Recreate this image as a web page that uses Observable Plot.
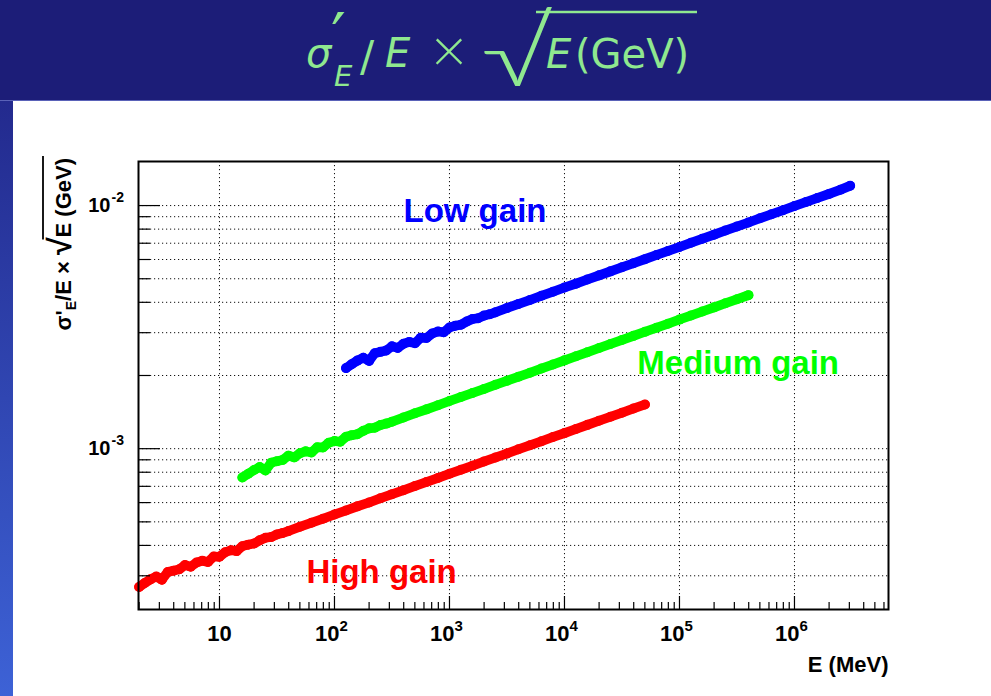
<!DOCTYPE html>
<html><head><meta charset="utf-8">
<script src="https://cdn.jsdelivr.net/npm/d3@7"></script>
<script src="https://cdn.jsdelivr.net/npm/@observablehq/plot@0.6"></script>
<style>
html,body{margin:0;padding:0;background:#fff;}
#page{position:relative;width:991px;height:696px;overflow:hidden;background:#fff;}
#header{position:absolute;left:0;top:0;width:991px;height:100px;background:#1c1d78;border-bottom:1px solid #5a62b8;}
#strip{position:absolute;left:0;top:101px;width:13px;height:595px;background:linear-gradient(#232a8e,#3d62d6);}
#chart{position:absolute;left:13px;top:101px;width:978px;height:595px;}
#title{position:absolute;left:0;top:0;overflow:visible;}
</style></head><body>
<div id="page">
  <div id="header"><svg id="title" width="991" height="100"></svg></div>
  <div id="strip"></div>
  <div id="chart"></div>
</div>
<script>
// ---- data (E in MeV, value = sigma'_E/E * sqrt(E[GeV])) ----
const highGainE = [2.00,2.24,2.51,2.82,3.16,3.55,3.98,4.47,5.01,5.62,6.31,7.08,7.94,8.91,10.0,11.2,12.6,14.1,15.8,17.8,20.0,22.4,25.1,28.2,31.6,35.5,39.8,
  50.1,63.1,79.4,100,126,158,200,251,316,398,501,631,794,1000,1259,1585,1995,2512,3162,3981,5012,6310,7943,10000,12589,15849,19953,25119,31623,39811,50119];
const highGainV = [2.70e-4,2.80e-4,2.90e-4,2.98e-4,2.89e-4,3.11e-4,3.15e-4,3.19e-4,3.32e-4,3.27e-4,3.40e-4,3.46e-4,3.42e-4,3.60e-4,3.59e-4,3.75e-4,3.82e-4,3.79e-4,3.97e-4,4.03e-4,4.07e-4,4.20e-4,4.30e-4,4.33e-4,4.44e-4,4.50e-4,4.58e-4,
  4.77e-4,4.96e-4,5.15e-4,5.36e-4,5.57e-4,5.79e-4,6.01e-4,6.25e-4,6.50e-4,6.75e-4,7.02e-4,7.29e-4,7.58e-4,7.88e-4,8.19e-4,8.51e-4,8.85e-4,9.20e-4,9.56e-4,9.94e-4,1.033e-3,1.073e-3,1.116e-3,1.159e-3,1.205e-3,1.253e-3,1.302e-3,1.353e-3,1.406e-3,1.462e-3,1.519e-3];

const mediumGainE = [15.8,17.8,20.0,22.4,25.1,28.2,31.6,35.5,39.8,44.7,50.1,56.2,63.1,70.8,79.4,89.1,100,112,126,141,158,178,200,224,251,282,316,
  398,501,631,794,1000,1259,1585,1995,2512,3162,3981,5012,6310,7943,1.0e4,1.26e4,1.58e4,2.0e4,2.51e4,3.16e4,3.98e4,5.01e4,6.31e4,7.94e4,1.0e5,1.26e5,1.58e5,2.0e5,2.51e5,3.16e5,3.98e5];
const mediumGainV = [7.61e-4,7.89e-4,8.17e-4,8.40e-4,8.14e-4,8.76e-4,8.88e-4,8.99e-4,9.36e-4,9.21e-4,9.58e-4,9.75e-4,9.64e-4,1.014e-3,1.012e-3,1.057e-3,1.076e-3,1.068e-3,1.119e-3,1.136e-3,1.147e-3,1.184e-3,1.212e-3,1.220e-3,1.251e-3,1.268e-3,1.291e-3,
  1.344e-3,1.398e-3,1.451e-3,1.510e-3,1.570e-3,1.632e-3,1.694e-3,1.761e-3,1.832e-3,1.902e-3,1.978e-3,2.054e-3,2.136e-3,2.221e-3,2.308e-3,2.398e-3,2.494e-3,2.593e-3,2.694e-3,2.801e-3,2.911e-3,3.024e-3,3.145e-3,3.266e-3,3.396e-3,3.531e-3,3.669e-3,3.813e-3,3.962e-3,4.120e-3,4.281e-3];

const lowGainE = [126,141,158,178,200,224,251,282,316,355,398,447,501,562,631,708,794,891,1000,1122,1259,1413,1585,1778,1995,2239,2512,
  3162,3981,5012,6310,7943,1.0e4,1.26e4,1.58e4,2.0e4,2.51e4,3.16e4,3.98e4,5.01e4,6.31e4,7.94e4,1.0e5,1.26e5,1.58e5,2.0e5,2.51e5,3.16e5,3.98e5,5.01e5,6.31e5,7.94e5,1.0e6,1.26e6,1.58e6,2.0e6,2.51e6,3.05e6];
const lowGainV = [2.145e-3,2.224e-3,2.303e-3,2.367e-3,2.296e-3,2.470e-3,2.502e-3,2.534e-3,2.637e-3,2.597e-3,2.701e-3,2.748e-3,2.717e-3,2.859e-3,2.852e-3,2.979e-3,3.034e-3,3.010e-3,3.153e-3,3.201e-3,3.233e-3,3.336e-3,3.415e-3,3.439e-3,3.527e-3,3.574e-3,3.638e-3,
  3.789e-3,3.940e-3,4.091e-3,4.257e-3,4.424e-3,4.599e-3,4.774e-3,4.964e-3,5.163e-3,5.362e-3,5.576e-3,5.790e-3,6.021e-3,6.259e-3,6.505e-3,6.759e-3,7.030e-3,7.308e-3,7.594e-3,7.895e-3,8.205e-3,8.523e-3,8.864e-3,9.206e-3,9.571e-3,9.953e-3,1.0342e-2,1.0747e-2,1.1168e-2,1.1613e-2,1.2065e-2];

const seriesNames = ["Low gain", "Medium gain", "High gain"];
const seriesColors = ["#0000ff", "#00ff00", "#ff0000"];

// ---- axis ticks ----
const xMajorTicks = [10, 1e2, 1e3, 1e4, 1e5, 1e6];
const xTickExponents = ["", "2", "3", "4", "5", "6"];
const minorMantissas = [2, 3, 4, 5, 6, 7, 8, 9];
const xMinorDecades = [1, 10, 100, 1e3, 1e4, 1e5, 1e6];
const yMajorTicks = [1e-3, 1e-2];
const yTickExponents = ["-3", "-2"];
const yMinorDecades = [1e-4, 1e-3];

// ---- build tables ----
const seriesE = [lowGainE, mediumGainE, highGainE];
const seriesV = [lowGainV, mediumGainV, highGainV];
const data = seriesNames.flatMap((name, i) => seriesE[i].map((e, j) => ({name, E: e, V: seriesV[i][j], color: seriesColors[i]})));

const xDomain = [1.976, 6.57e6];
const yDomain = [2.18e-4, 1.518e-2];
const xMinor = xMinorDecades.flatMap(d => minorMantissas.map(m => m * d)).filter(v => v > xDomain[0] && v < xDomain[1]);
const yMinor = yMinorDecades.flatMap(d => minorMantissas.map(m => m * d)).filter(v => v > yDomain[0] && v < yDomain[1]);
const xLabels = xMajorTicks.map((v, i) => ({v, exp: xTickExponents[i]}));
const yLabels = yMajorTicks.map((v, i) => ({v, exp: yTickExponents[i]}));
const seriesLabels = [
  {text: "Low gain", E: 398, V: 9.5e-3, color: seriesColors[0]},
  {text: "Medium gain", E: 4.3e4, V: 2.24e-3, color: seriesColors[1]},
  {text: "High gain", E: 57, V: 3.1e-4, color: seriesColors[2]}
];

const W = 978, H = 595, ML = 125, MR = 103, MT = 60, MB = 87;
const FW = W - ML - MR, FH = H - MT - MB;
const FONT = "'Liberation Sans', Arial, Helvetica, sans-serif";
const dotted = {stroke: "#111", strokeWidth: 1, strokeDasharray: "1.2,2.8"};

const chart = Plot.plot({
  width: W, height: H,
  marginLeft: ML, marginRight: MR, marginTop: MT, marginBottom: MB,
  style: {background: "white", fontFamily: FONT, overflow: "visible"},
  x: {type: "log", domain: xDomain, axis: null},
  y: {type: "log", domain: yDomain, axis: null},
  marks: [
    Plot.ruleY([...yMinor, ...yMajorTicks], dotted),
    Plot.ruleX(xMajorTicks, dotted),
    Plot.line(data, {x: "E", y: "V", z: "name", stroke: "color", strokeWidth: 9.6, strokeLinecap: "round", strokeLinejoin: "round"}),
    Plot.dot(data, {x: "E", y: "V", r: 5, fill: "color", stroke: "none"}),
    Plot.tickX(xMinor, {x: d => d, stroke: "black", strokeWidth: 1.2, insetTop: FH - 7}),
    Plot.tickX(xMajorTicks, {x: d => d, stroke: "black", strokeWidth: 1.2, insetTop: FH - 13}),
    Plot.tickY(yMinor, {y: d => d, stroke: "black", strokeWidth: 1.2, insetRight: FW - 12}),
    Plot.tickY(yMajorTicks, {y: d => d, stroke: "black", strokeWidth: 1.2, insetRight: FW - 22}),
    Plot.frame({stroke: "black", strokeWidth: 2}),
    // x tick labels
    Plot.text(xLabels.filter(d => d.exp === ""), {x: "v", text: () => "10", frameAnchor: "bottom", lineAnchor: "bottom", dy: 31, fontSize: 22, fontWeight: "bold", fill: "black"}),
    Plot.text(xLabels.filter(d => d.exp !== ""), {x: "v", text: () => "10", frameAnchor: "bottom", lineAnchor: "bottom", textAnchor: "end", dx: 5, dy: 31, fontSize: 22, fontWeight: "bold", fill: "black"}),
    Plot.text(xLabels.filter(d => d.exp !== ""), {x: "v", text: "exp", frameAnchor: "bottom", lineAnchor: "bottom", textAnchor: "start", dx: 5, dy: 21, fontSize: 15, fontWeight: "bold", fill: "black"}),
    // y tick labels
    Plot.text(yLabels, {y: "v", text: () => "10", frameAnchor: "left", textAnchor: "end", lineAnchor: "middle", dx: -28, fontSize: 20, fontWeight: "bold", fill: "black"}),
    Plot.text(yLabels, {y: "v", text: "exp", frameAnchor: "left", textAnchor: "start", lineAnchor: "bottom", dx: -27, dy: -4, fontSize: 14, fontWeight: "bold", fill: "black"}),
    // x axis title
    Plot.text(["E (MeV)"], {frameAnchor: "bottom-right", textAnchor: "end", lineAnchor: "bottom", dy: 62, fontSize: 22, fontWeight: "bold", fill: "black"}),
    // series labels
    Plot.text(seriesLabels, {x: "E", y: "V", text: "text", fill: "color", textAnchor: "start", lineAnchor: "middle", fontSize: 33, fontWeight: "bold"})
  ]
});
document.getElementById("chart").appendChild(chart);

// ---- y axis title (rotated, with subscript and radical) ----
const svg = d3.select(chart);
const gy = svg.append("g").attr("transform", `translate(${71 - 13},${158 - 101}) rotate(-90)`);
const ty = gy.append("text").attr("text-anchor", "end").attr("font-family", FONT).attr("font-weight", "bold").attr("font-size", 22).attr("fill", "black");
ty.append("tspan").text("σ'");
ty.append("tspan").attr("font-size", 14).attr("dy", 5).text("E");
ty.append("tspan").attr("dy", -5).text("/E × ");
ty.append("tspan").attr("font-size", 32).text("√");
ty.append("tspan").text("E (GeV)");
{
  const n = ty.node();
  const x0 = n.getEndPositionOfChar(8).x - 2;
  const x1 = n.getEndPositionOfChar(15).x + 2;
  gy.append("line").attr("x1", x0).attr("x2", x1).attr("y1", -28).attr("y2", -28).attr("stroke", "black").attr("stroke-width", 1.8);
}

// ---- slide title ----
const hs = d3.select("#title");
const green = "#8fe88f";
const HF = "'DejaVu Sans', sans-serif";
const piece = (txt, x, y, size, italic, family, weight) => hs.append("text").attr("x", x).attr("y", y).attr("fill", green)
  .attr("font-family", family || HF).attr("font-size", size).attr("font-weight", weight || 400)
  .attr("font-style", italic ? "italic" : "normal").text(txt);
piece("σ", 306, 67, 40, true);
piece("′", 331, 60, 66, false);
piece("E", 334, 86, 29, true);
piece("/", 360, 71, 42, false);
piece("E", 385, 67, 40, true);
piece("×", 431, 72, 62, false, "Lato, 'DejaVu Sans', sans-serif", 300);
hs.append("text").attr("transform", "translate(481,86) scale(1.25,1)").attr("fill", green)
  .attr("font-family", "Lato, 'Liberation Sans', sans-serif").attr("font-size", 92).attr("font-weight", 300).text("√");
piece("E", 546, 68, 40, true);
piece("(GeV)", 575, 68, 40, false);
hs.append("line").attr("x1", 536).attr("x2", 697).attr("y1", 12).attr("y2", 12).attr("stroke", green).attr("stroke-width", 2.5);
</script>
</body></html>
